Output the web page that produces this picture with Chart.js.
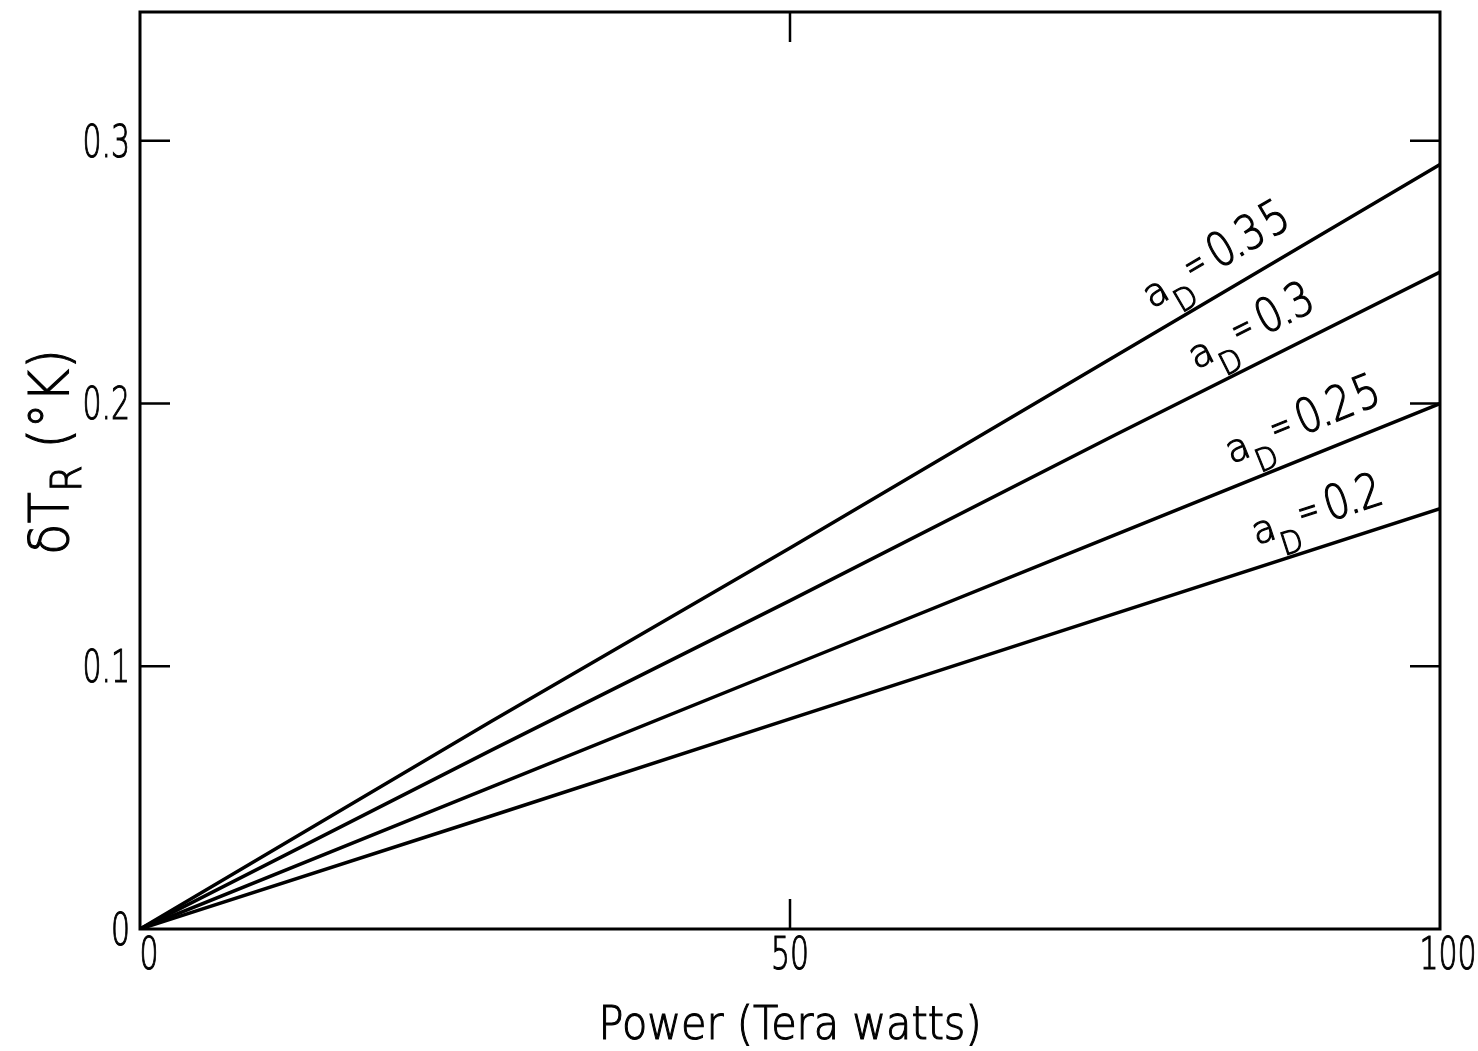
<!DOCTYPE html>
<html>
<head>
<meta charset="utf-8">
<script src="https://cdn.jsdelivr.net/npm/chart.js@4.4.1/dist/chart.umd.min.js"></script>
<style>
  html, body { margin: 0; padding: 0; background: #fff; }
  #wrap { width: 1478px; height: 1051px; }
</style>
</head>
<body>
<div id="wrap"><canvas id="power-chart" width="1478" height="1051"></canvas></div>
<script>
// data
const powerTW = [0, 27, 50, 75, 100];
const dT_a035 = [0, 0.079, 0.145, 0.218, 0.291];
const dT_a030 = [0, 0.068, 0.125, 0.188, 0.250];
const dT_a025 = [0, 0.054, 0.100, 0.150, 0.200];
const dT_a020 = [0, 0.043, 0.080, 0.120, 0.160];
const seriesNames = ['0.35', '0.3', '0.25', '0.2'];
const labelStartX = [78.8, 82.1, 84.7, 86.5];
const xTicks = [0, 50, 100];
const yTicks = [0, 0.1, 0.2, 0.3];

const THIN = "200 {s}px 'DejaVu Sans', sans-serif";

function toPoints(ys) {
  return powerTW.map((x, i) => ({ x: x, y: ys[i] }));
}

// text squeezed / stretched like stencil lettering, slightly thickened
function letter(ctx, str, x, y, size, sx, sy, align, baseline) {
  ctx.save();
  ctx.translate(x, y);
  ctx.scale(sx, sy);
  ctx.font = THIN.replace('{s}', size);
  ctx.textAlign = align || 'center';
  ctx.textBaseline = baseline || 'alphabetic';
  ctx.lineWidth = 1.1;
  ctx.strokeStyle = '#000';
  ctx.fillStyle = '#000';
  ctx.fillText(str, 0, 0);
  ctx.strokeText(str, 0, 0);
  const w = ctx.measureText(str).width * sx;
  ctx.restore();
  return w;
}

// frame, inward ticks, tick labels, line labels and axis titles
const decorPlugin = {
  id: 'decor',
  afterDraw(chart) {
    const ctx = chart.ctx;
    const a = chart.chartArea;
    const xs = chart.scales.x;
    const ys = chart.scales.y;
    ctx.save();
    ctx.strokeStyle = '#000';
    ctx.lineWidth = 3;
    ctx.strokeRect(a.left, a.top, a.right - a.left, a.bottom - a.top);

    ctx.lineWidth = 2.5;
    ctx.beginPath();
    ys.ticks.forEach(t => {
      if (t.value === 0) return;
      const py = ys.getPixelForValue(t.value);
      ctx.moveTo(a.left, py); ctx.lineTo(a.left + 30, py);
      ctx.moveTo(a.right, py); ctx.lineTo(a.right - 30, py);
    });
    xs.ticks.forEach(t => {
      if (t.value === 0 || t.value === 100) return;
      const px = xs.getPixelForValue(t.value);
      ctx.moveTo(px, a.bottom); ctx.lineTo(px, a.bottom - 30);
      ctx.moveTo(px, a.top); ctx.lineTo(px, a.top + 30);
    });
    ctx.stroke();

    // tick labels (tall, narrow)
    ys.ticks.forEach(t => {
      const txt = t.value === 0 ? '0' : t.value.toFixed(1);
      letter(ctx, txt, a.left - 10, ys.getPixelForValue(t.value) + 16, 44, 0.68, 1.0, 'right');
    });
    xs.ticks.forEach(t => {
      const px = xs.getPixelForValue(t.value) + (t.value === 0 ? 9 : (t.value === 100 ? 8 : 0));
      letter(ctx, String(t.value), px, a.bottom + 40, 44, 0.68, 1.0, 'center');
    });

    // x title
    letter(ctx, 'Power (Tera watts)', (a.left + a.right) / 2, 1039, 46, 0.9, 1.0, 'center');

    // labels along each line
    chart.data.datasets.forEach((ds, i) => {
      const pts = ds.data;
      const x0 = labelStartX[i];
      let k = 1;
      while (k < pts.length - 1 && pts[k].x < x0) k++;
      const p1 = pts[k - 1], p2 = pts[k];
      const yv = p1.y + (p2.y - p1.y) * (x0 - p1.x) / (p2.x - p1.x);
      const px = xs.getPixelForValue(x0);
      const py = ys.getPixelForValue(yv);
      const ang = Math.atan2(ys.getPixelForValue(p2.y) - ys.getPixelForValue(p1.y),
                             xs.getPixelForValue(p2.x) - xs.getPixelForValue(p1.x));
      ctx.save();
      ctx.translate(px, py);
      ctx.rotate(ang);
      const base = -22;
      letter(ctx, 'a', 10, base, 38, 1.0, 1.0);
      letter(ctx, 'D', 33, base + 19, 30, 0.95, 1.05);
      letter(ctx, '=', 58, base - 3, 42, 0.6, 1.0);
      let cx = 88;
      for (const ch of seriesNames[i]) {
        if (ch === '.') {
          letter(ctx, '.', cx - 12, base, 44, 1.0, 1.0);
          cx += 6;
        } else {
          letter(ctx, ch, cx, base, 44, 0.9, 1.08);
          cx += 28;
        }
      }
      ctx.restore();
    });

    // y axis title: δT_R (°K)
    ctx.save();
    ctx.translate(54, 452);
    ctx.rotate(-Math.PI / 2);
    const big = 56, small = 42, sq = 0.92;
    ctx.font = THIN.replace('{s}', big);
    const w1 = ctx.measureText('δT').width * sq;
    const w3 = ctx.measureText(' (°K)').width * sq;
    ctx.font = THIN.replace('{s}', small);
    const w2 = ctx.measureText('R').width * sq;
    let sx = -(w1 + w2 + w3) / 2;
    sx += letter(ctx, 'δT', sx, 14, big, sq, 1.0, 'left');
    sx += letter(ctx, 'R', sx, 27, small, sq, 1.0, 'left');
    letter(ctx, ' (°K)', sx, 14, big, sq, 1.0, 'left');
    ctx.restore();

    ctx.restore();
  }
};

const lineStyle = {
  borderColor: '#000',
  borderWidth: 3.5,
  pointRadius: 0,
  fill: false,
  tension: 0
};

const ctx = document.getElementById('power-chart').getContext('2d');
new Chart(ctx, {
  type: 'line',
  data: {
    datasets: [
      Object.assign({ label: 'a_D = 0.35', data: toPoints(dT_a035) }, lineStyle),
      Object.assign({ label: 'a_D = 0.3', data: toPoints(dT_a030) }, lineStyle),
      Object.assign({ label: 'a_D = 0.25', data: toPoints(dT_a025) }, lineStyle),
      Object.assign({ label: 'a_D = 0.2', data: toPoints(dT_a020) }, lineStyle)
    ]
  },
  options: {
    responsive: false,
    animation: false,
    layout: { padding: { top: 12, right: 38, left: 0, bottom: 0 } },
    plugins: {
      legend: { display: false },
      tooltip: { enabled: false }
    },
    scales: {
      x: {
        type: 'linear',
        min: 0,
        max: 100,
        afterBuildTicks: s => { s.ticks = xTicks.map(v => ({ value: v })); },
        afterFit: s => { s.height = 122; s.paddingLeft = 0; s.paddingRight = 0; },
        grid: { display: false, drawTicks: false },
        border: { display: false },
        ticks: { display: false }
      },
      y: {
        type: 'linear',
        min: 0,
        max: 0.349,
        afterBuildTicks: s => { s.ticks = yTicks.map(v => ({ value: v })); },
        afterFit: s => { s.width = 140; s.paddingTop = 0; s.paddingBottom = 0; },
        grid: { display: false, drawTicks: false },
        border: { display: false },
        ticks: { display: false }
      }
    }
  },
  plugins: [decorPlugin]
});
</script>
</body>
</html>
